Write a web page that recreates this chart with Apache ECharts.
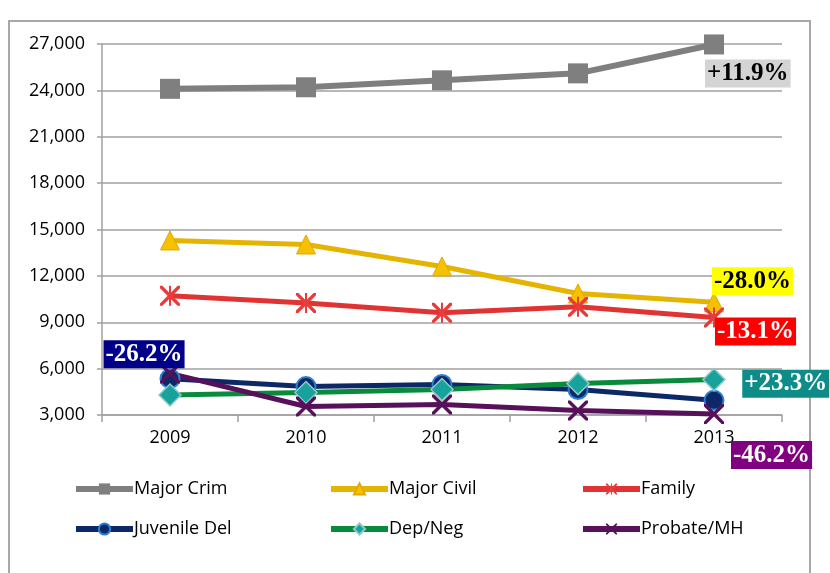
<!DOCTYPE html>
<html>
<head>
<meta charset="utf-8">
<script src="https://cdn.jsdelivr.net/npm/echarts@6/dist/echarts.min.js"></script>
<style>
  html, body { margin: 0; padding: 0; background: #fff; }
  #chart { width: 830px; height: 573px; }
</style>
</head>
<body>
<div id="chart"></div>
<script>
// Caseload filings by case type, 2009-2013
const years = ['2009', '2010', '2011', '2012', '2013'];
const majorCrim   = [24100, 24200, 24650, 25100, 26970];
const majorCivil  = [14290, 14030, 12610, 10860, 10290];
const family      = [10710, 10250, 9610, 10000, 9310];
const juvenileDel = [5350, 4840, 4970, 4650, 3950];
const depNeg      = [4290, 4450, 4650, 5030, 5290];
const probateMH   = [5690, 3550, 3680, 3290, 3060];
const yTicks = [3000, 6000, 9000, 12000, 15000, 18000, 21000, 24000, 27000];

// Symbols: Excel-style X and asterisk markers
const xPath = 'path://M0,0 L2.4,0 L10,7.6 L17.6,0 L20,0 L20,2.4 L12.4,10 L20,17.6 L20,20 L17.6,20 L10,12.4 L2.4,20 L0,20 L0,17.6 L7.6,10 L0,2.4 Z';
const starPath = xPath + ' M9,0 L11,0 L11,20 L9,20 Z';

function pctChange(arr) {
  const p = (arr[arr.length - 1] / arr[0] - 1) * 100;
  return (p >= 0 ? '+' : '') + p.toFixed(1) + '%';
}

const tagFont = { fontFamily: 'Liberation Serif', fontWeight: 'bold', fontSize: 25, lineHeight: 26, padding: [1, 2] };

function tagged(values, idx, text, bg, color, pos) {
  return values.map((v, i) => i !== idx ? v : {
    value: v,
    label: Object.assign({
      show: true, formatter: text, backgroundColor: bg, color: color,
      position: pos, align: 'left', verticalAlign: 'top'
    }, tagFont)
  });
}

const seriesDefs = [
  { name: 'Major Crim', data: tagged(majorCrim, 4, pctChange(majorCrim), '#d4d4d4', '#000', [1, 25]),
    color: '#7f7f7f', symbol: 'rect', size: 20, lw: 6, item: { color: '#7f7f7f' } },
  { name: 'Major Civil', data: tagged(majorCivil, 4, pctChange(majorCivil), '#ffff00', '#000', [8, -25]),
    color: '#e4b400', symbol: 'triangle', size: 19, lw: 5, item: { color: '#f7c000', borderColor: '#e0aa00', borderWidth: 1 } },
  { name: 'Family', data: tagged(family, 4, pctChange(family), '#ff0000', '#fff', [11, 10]),
    color: '#e03434', symbol: starPath, size: 20, lw: 5, item: { color: '#e83c3c' } },
  { name: 'Juvenile Del', data: tagged(juvenileDel, 0, pctChange(juvenileDel), '#00008b', '#fff', [-56, -28]),
    color: '#0c2866', symbol: 'circle', size: 19, lw: 5, item: { color: '#0c2866', borderColor: '#2c7fd6', borderWidth: 2 } },
  { name: 'Dep/Neg', data: tagged(depNeg, 4, pctChange(depNeg), '#0e8c88', '#fff', [40, 2]),
    color: '#0a8a3c', symbol: 'diamond', size: 22, lw: 5, item: { color: '#17a29c', borderColor: '#8fcac7', borderWidth: 1.5 } },
  { name: 'Probate/MH', data: tagged(probateMH, 4, pctChange(probateMH), '#800080', '#fff', [27, 37]),
    color: '#57105a', symbol: xPath, size: 20, lw: 5, item: { color: '#57105a' } }
];

const series = seriesDefs.map(d => ({
  name: d.name,
  type: 'line',
  data: d.data,
  symbol: d.symbol,
  symbolSize: d.size,
  showAllSymbol: true,
  lineStyle: { color: d.color, width: d.lw },
  itemStyle: d.item,
  emphasis: { disabled: true }
}));

// One legend per item so the columns line up like a table
const legendPos = [
  [73, 480], [328, 480], [580, 480],
  [73, 520], [328, 520], [580, 520]
];
const legends = seriesDefs.map((d, i) => ({
  data: [d.name],
  left: legendPos[i][0],
  top: legendPos[i][1],
  itemWidth: 57,
  itemHeight: 14,
  itemGap: 0,
  padding: 0,
  lineStyle: { width: 6 },
  textStyle: { fontFamily: 'Open Sans', fontSize: 18, color: '#000', padding: [0, 0, 0, -4] },
  selectedMode: false
}));

const chart = echarts.init(document.getElementById('chart'), null, { renderer: 'canvas' });
chart.setOption({
  animation: false,
  backgroundColor: '#fff',
  graphic: [{
    type: 'rect',
    shape: { x: 9, y: 21, width: 801, height: 600 },
    style: { fill: 'none', stroke: '#a8a8a8', lineWidth: 2 },
    silent: true
  }],
  grid: { left: 102, right: 48, top: 44, bottom: 158 },
  xAxis: {
    type: 'category',
    data: years,
    boundaryGap: true,
    axisLine: { lineStyle: { color: '#a0a0a0', width: 1.5 } },
    axisTick: { show: true, length: 7, lineStyle: { color: '#a0a0a0', width: 1.5 } },
    axisLabel: { fontFamily: 'Open Sans', fontSize: 18, color: '#000', margin: 14 }
  },
  yAxis: {
    type: 'value',
    min: yTicks[0],
    max: yTicks[yTicks.length - 1],
    interval: yTicks[1] - yTicks[0],
    axisLine: { show: true, lineStyle: { color: '#a0a0a0', width: 1.5 } },
    axisTick: { show: true, length: 5, lineStyle: { color: '#a0a0a0', width: 1.5 } },
    splitLine: { lineStyle: { color: '#a0a0a0', width: 1.5 } },
    axisLabel: {
      fontFamily: 'Open Sans', fontSize: 18, color: '#000', margin: 17,
      formatter: v => v.toLocaleString('en-US')
    }
  },
  legend: legends,
  series: series
});
</script>
</body>
</html>
